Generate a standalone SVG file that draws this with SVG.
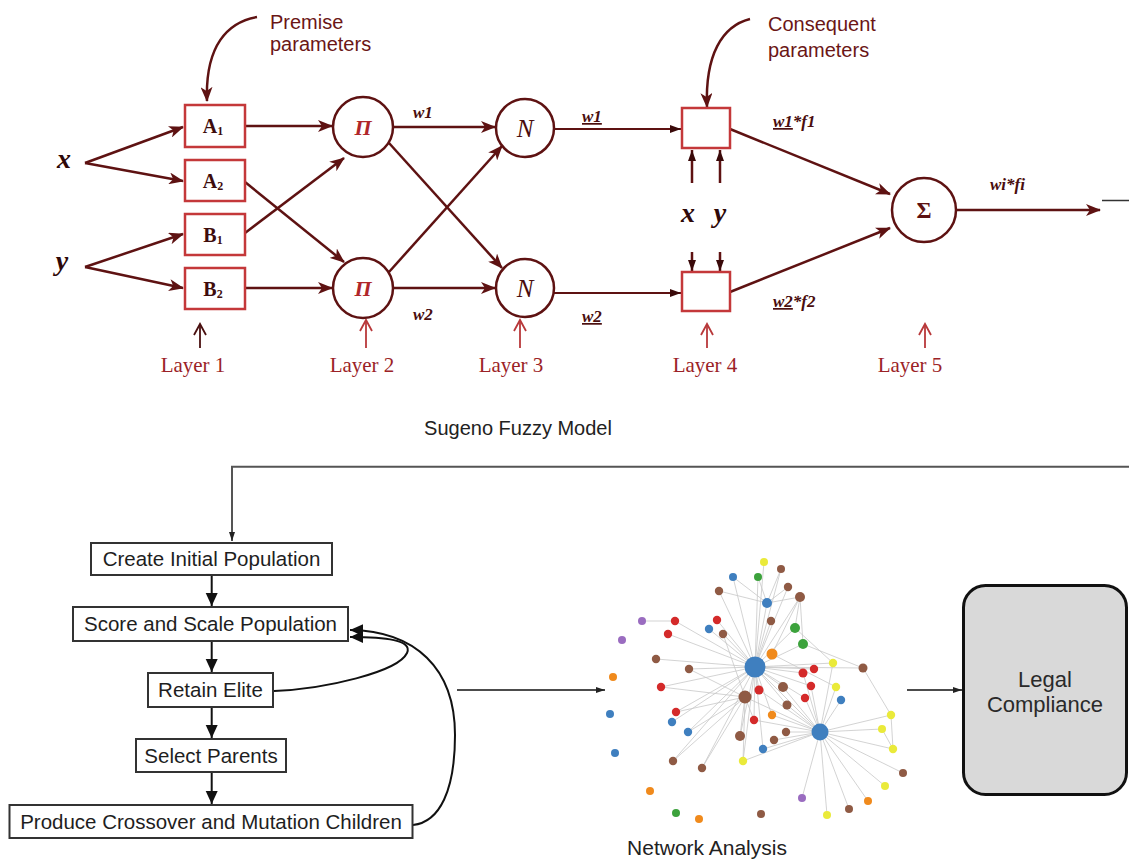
<svg xmlns="http://www.w3.org/2000/svg" width="1129" height="861" viewBox="0 0 1129 861">
<style>
.bg{fill:#ffffff}
.dk{stroke:#5e1212;stroke-width:2.5;fill:none}
.dk2{stroke:#5e1212;stroke-width:2;fill:none}
.lay{stroke:#b8383a;stroke-width:1.8;fill:none}
.lay1{stroke:#4a1010;stroke-width:1.8;fill:none}
.box{fill:#ffffff;stroke:#c4383a;stroke-width:2.5}
.circ{fill:#ffffff;stroke:#5e1212;stroke-width:2.5}
.bl{font-family:"Liberation Serif",serif;font-weight:bold;font-size:20px;fill:#3e0c0c;text-anchor:middle}
.sym{font-family:"Liberation Serif",serif;font-style:italic;font-size:25px;fill:#4a0e0e;text-anchor:middle}
.var{font-family:"Liberation Serif",serif;font-style:italic;font-weight:bold;font-size:28px;fill:#2e0808;text-anchor:middle}
.wl{font-family:"Liberation Serif",serif;font-style:italic;font-weight:bold;font-size:17px;fill:#4a0e0e}
.layer{font-family:"Liberation Serif",serif;font-size:21px;fill:#9b2226;text-anchor:middle}
.par{font-family:"Liberation Sans",Arial,sans-serif;font-size:20px;fill:#6b1616}
.cap{font-family:"Liberation Sans",Arial,sans-serif;font-size:20px;fill:#222;text-anchor:middle}
.fbox{fill:#ffffff;stroke:#333;stroke-width:2}
.ft{font-family:"Liberation Sans",Arial,sans-serif;font-size:20.5px;fill:#1e1e1e;text-anchor:middle}
.fl{stroke:#111;stroke-width:2;fill:none}
.gl{stroke:#555;stroke-width:2;fill:none}
.e{stroke:#c8c8c8;stroke-width:0.8}
.nb{fill:#3f7fbf}.no{fill:#f08a1c}.ng{fill:#3ca23c}.nr{fill:#d42a2a}.np{fill:#9a6cc0}.nn{fill:#8f5a44}.ny{fill:#eaea3a}
</style>
<defs>
<marker id="bar" markerUnits="userSpaceOnUse" markerWidth="16" markerHeight="12" refX="14" refY="6" orient="auto">
<path d="M0,0 L15,6 L0,12 L4,6 z" fill="#5e1212"/>
</marker>
<marker id="sm" markerUnits="userSpaceOnUse" markerWidth="12" markerHeight="10" refX="11" refY="5" orient="auto">
<path d="M0,1 L11,5 L0,9 z" fill="#3a0a0a"/>
</marker>
<marker id="openR" markerUnits="userSpaceOnUse" markerWidth="14" markerHeight="14" refX="12" refY="7" orient="auto">
<path d="M1,1 L12,7 L1,13" fill="none" stroke="#b8383a" stroke-width="1.8"/>
</marker>
<marker id="openD" markerUnits="userSpaceOnUse" markerWidth="14" markerHeight="14" refX="12" refY="7" orient="auto">
<path d="M1,1 L12,7 L1,13" fill="none" stroke="#4a1010" stroke-width="1.8"/>
</marker>
<marker id="tri" markerUnits="userSpaceOnUse" markerWidth="14" markerHeight="14" refX="13" refY="7" orient="auto">
<path d="M0,1 L13,7 L0,13 z" fill="#111"/>
</marker>
<marker id="tiny" markerUnits="userSpaceOnUse" markerWidth="10" markerHeight="8" refX="9" refY="4" orient="auto">
<path d="M0,1 L9,4 L0,7 z" fill="#222"/>
</marker>
</defs>
<rect class="bg" x="0" y="0" width="1129" height="861"/>

<!-- connectors -->
<g id="connectors">
<path class="dk" d="M85,163 L183,127" marker-end="url(#bar)"/>
<path class="dk" d="M85,163 L183,181" marker-end="url(#bar)"/>
<path class="dk" d="M85,267 L183,234" marker-end="url(#bar)"/>
<path class="dk" d="M85,267 L183,288" marker-end="url(#bar)"/>
<path class="dk" d="M245,126 L332,126" marker-end="url(#bar)"/>
<path class="dk" d="M245,233 L344,158" marker-end="url(#bar)"/>
<path class="dk" d="M245,182 L344,262" marker-end="url(#bar)"/>
<path class="dk" d="M245,288 L332,288" marker-end="url(#bar)"/>
<path class="dk" d="M393,127 L495,127" marker-end="url(#bar)"/>
<path class="dk" d="M389,143 L502,268" marker-end="url(#bar)"/>
<path class="dk" d="M389,272 L502,146" marker-end="url(#bar)"/>
<path class="dk" d="M393,288 L495,288" marker-end="url(#bar)"/>
<path class="dk2" d="M554,129 L681,129" marker-end="url(#sm)"/>
<path class="dk2" d="M554,293 L681,293" marker-end="url(#sm)"/>
<path class="dk" d="M692,183 L692,150" marker-end="url(#sm)"/>
<path class="dk" d="M720,183 L720,150" marker-end="url(#sm)"/>
<path class="dk" d="M692,252 L692,271" marker-end="url(#sm)"/>
<path class="dk" d="M720,252 L720,271" marker-end="url(#sm)"/>
<path class="dk" d="M730,129 L890,194" marker-end="url(#bar)"/>
<path class="dk" d="M730,292 L890,228" marker-end="url(#bar)"/>
<path class="dk" d="M957,210 L1100,210" marker-end="url(#bar)"/>
<line x1="1102" y1="200.5" x2="1129" y2="200.5" stroke="#333" stroke-width="1.5"/>
<path class="dk" d="M257,17 C228,22 205,45 207,101" marker-end="url(#bar)"/>
<path class="dk" d="M750,19 C722,26 705,55 707,107" marker-end="url(#bar)"/>
<path class="lay1" d="M200,348 L200,324" marker-end="url(#openD)"/>
<path class="lay" d="M366,348 L366,320" marker-end="url(#openR)"/>
<path class="lay" d="M520,348 L520,320" marker-end="url(#openR)"/>
<path class="lay" d="M707,348 L707,324" marker-end="url(#openR)"/>
<path class="lay" d="M925,348 L925,324" marker-end="url(#openR)"/>
<path class="gl" d="M1129,466.7 L232,466.7 L232,541" marker-end="url(#tiny)"/>
<path class="fl" d="M211.7,575 L211.7,606" marker-end="url(#tri)"/>
<path class="fl" d="M211.7,641 L211.7,672" marker-end="url(#tri)"/>
<path class="fl" d="M211.7,707 L211.7,738" marker-end="url(#tri)"/>
<path class="fl" d="M211.7,772 L211.7,804" marker-end="url(#tri)"/>
<path class="fl" d="M274,691 C325,689 398,672 407,653 C413,640 385,637 350,637" marker-end="url(#tri)"/>
<path class="fl" d="M413,825 C440,822 455,790 455,735 C455,668 415,631 350,630" marker-end="url(#tri)"/>
<path stroke="#111" stroke-width="1.5" fill="none" d="M457,690 L605,690" marker-end="url(#tiny)"/>
<path stroke="#111" stroke-width="1.5" fill="none" d="M907,690 L962,690" marker-end="url(#tiny)"/>
</g>

<g id="x-input"><text class="var" x="64" y="168">x</text></g>
<g id="y-input"><text class="var" x="62" y="270">y</text></g>
<g id="A1"><rect class="box" x="185" y="105" width="60" height="42"/><text class="bl" x="213" y="133">A<tspan font-size="12" dy="2">1</tspan></text></g>
<g id="A2"><rect class="box" x="185" y="160" width="60" height="41"/><text class="bl" x="213" y="188">A<tspan font-size="12" dy="2">2</tspan></text></g>
<g id="B1"><rect class="box" x="185" y="214" width="60" height="41"/><text class="bl" x="213" y="242">B<tspan font-size="12" dy="2">1</tspan></text></g>
<g id="B2"><rect class="box" x="185" y="268" width="60" height="41"/><text class="bl" x="213" y="296">B<tspan font-size="12" dy="2">2</tspan></text></g>
<g id="Pi1"><circle class="circ" cx="363" cy="127" r="30"/><text x="363" y="135" font-family="Liberation Serif,serif" font-style="italic" font-weight="bold" font-size="22" fill="#b0262a" text-anchor="middle">Π</text></g>
<g id="Pi2"><circle class="circ" cx="363" cy="288" r="30"/><text x="363" y="296" font-family="Liberation Serif,serif" font-style="italic" font-weight="bold" font-size="22" fill="#b0262a" text-anchor="middle">Π</text></g>
<g id="N1"><circle class="circ" cx="525" cy="128" r="29"/><text class="sym" x="525" y="137">N</text></g>
<g id="N2"><circle class="circ" cx="525" cy="288" r="29"/><text class="sym" x="525" y="297">N</text></g>
<g id="L4a"><rect class="box" x="682" y="108" width="48" height="40"/></g>
<g id="L4b"><rect class="box" x="682" y="272" width="48" height="39"/></g>
<g id="xy4"><text class="var" x="688" y="222" font-size="26">x</text><text class="var" x="720" y="222" font-size="26">y</text></g>
<g id="Sigma"><circle class="circ" cx="924" cy="210" r="32"/><text x="924" y="218" font-family="Liberation Serif,serif" font-weight="bold" font-size="23" fill="#5e1212" text-anchor="middle">Σ</text></g>

<g id="labels">
<text class="wl" x="413" y="118">w1</text>
<text class="wl" x="413" y="320">w2</text>
<text class="wl" x="582" y="122" text-decoration="underline">w1</text>
<text class="wl" x="582" y="322" text-decoration="underline">w2</text>
<text class="wl" x="773" y="127"><tspan text-decoration="underline">w1</tspan>*f1</text>
<text class="wl" x="773" y="307"><tspan text-decoration="underline">w2</tspan>*f2</text>
<text class="wl" x="990" y="190" font-size="20">wi*fi</text>
<text class="par" x="270" y="29">Premise</text>
<text class="par" x="270" y="51">parameters</text>
<text class="par" x="768" y="31">Consequent</text>
<text class="par" x="768" y="57">parameters</text>
<text class="layer" x="193" y="372">Layer 1</text>
<text class="layer" x="362" y="372">Layer 2</text>
<text class="layer" x="511" y="372">Layer 3</text>
<text class="layer" x="705" y="372">Layer 4</text>
<text class="layer" x="910" y="372">Layer 5</text>
<text class="cap" x="518" y="435">Sugeno Fuzzy Model</text>
</g>

<g id="create"><rect class="fbox" x="91" y="543" width="241" height="32"/><text class="ft" x="211.5" y="566">Create Initial Population</text></g>
<g id="score"><rect class="fbox" x="73" y="607" width="275" height="34"/><text class="ft" x="210.5" y="631">Score and Scale Population</text></g>
<g id="retain"><rect class="fbox" x="148" y="673" width="125" height="34"/><text class="ft" x="210.5" y="697">Retain Elite</text></g>
<g id="select"><rect class="fbox" x="136" y="739" width="150" height="33"/><text class="ft" x="211" y="763">Select Parents</text></g>
<g id="produce"><rect class="fbox" x="9.5" y="805" width="403" height="33"/><text class="ft" x="211" y="829">Produce Crossover and Mutation Children</text></g>

<g id="network">
<g id="net-edges">
<line class="e" x1="755" y1="667" x2="764" y2="562"/><line class="e" x1="755" y1="667" x2="781" y2="569"/><line class="e" x1="755" y1="667" x2="733" y2="577"/><line class="e" x1="755" y1="667" x2="758" y2="577"/><line class="e" x1="755" y1="667" x2="788" y2="587"/><line class="e" x1="755" y1="667" x2="719" y2="591"/><line class="e" x1="755" y1="667" x2="800" y2="597"/><line class="e" x1="755" y1="667" x2="767" y2="603"/><line class="e" x1="755" y1="667" x2="675" y2="621"/><line class="e" x1="755" y1="667" x2="717" y2="620"/><line class="e" x1="755" y1="667" x2="771" y2="621"/><line class="e" x1="755" y1="667" x2="709" y2="629"/><line class="e" x1="755" y1="667" x2="668" y2="634"/><line class="e" x1="755" y1="667" x2="723" y2="634"/><line class="e" x1="755" y1="667" x2="795" y2="628"/><line class="e" x1="755" y1="667" x2="803" y2="644"/><line class="e" x1="755" y1="667" x2="656" y2="659"/><line class="e" x1="755" y1="667" x2="689" y2="669"/><line class="e" x1="755" y1="667" x2="833" y2="663"/><line class="e" x1="755" y1="667" x2="803" y2="673"/><line class="e" x1="755" y1="667" x2="814" y2="669"/><line class="e" x1="755" y1="667" x2="661" y2="687"/><line class="e" x1="755" y1="667" x2="759" y2="690"/><line class="e" x1="755" y1="667" x2="783" y2="687"/><line class="e" x1="755" y1="667" x2="811" y2="686"/><line class="e" x1="755" y1="667" x2="805" y2="698"/><line class="e" x1="755" y1="667" x2="676" y2="712"/><line class="e" x1="755" y1="667" x2="672" y2="722"/><line class="e" x1="755" y1="667" x2="688" y2="732"/><line class="e" x1="755" y1="667" x2="754" y2="720"/><line class="e" x1="755" y1="667" x2="740" y2="736"/><line class="e" x1="755" y1="667" x2="673" y2="761"/><line class="e" x1="755" y1="667" x2="702" y2="768"/><line class="e" x1="755" y1="667" x2="743" y2="761"/><line class="e" x1="755" y1="667" x2="763" y2="749"/><line class="e" x1="755" y1="667" x2="772" y2="715"/><line class="e" x1="755" y1="667" x2="820" y2="732"/><line class="e" x1="755" y1="667" x2="787" y2="705"/><line class="e" x1="755" y1="667" x2="863" y2="668"/>
<line class="e" x1="820" y1="732" x2="891" y2="715"/><line class="e" x1="820" y1="732" x2="882" y2="729"/><line class="e" x1="820" y1="732" x2="893" y2="749"/><line class="e" x1="820" y1="732" x2="903" y2="773"/><line class="e" x1="820" y1="732" x2="885" y2="786"/><line class="e" x1="820" y1="732" x2="868" y2="801"/><line class="e" x1="820" y1="732" x2="849" y2="809"/><line class="e" x1="820" y1="732" x2="827" y2="815"/><line class="e" x1="820" y1="732" x2="802" y2="798"/><line class="e" x1="820" y1="732" x2="841" y2="700"/><line class="e" x1="820" y1="732" x2="836" y2="687"/><line class="e" x1="820" y1="732" x2="787" y2="705"/><line class="e" x1="820" y1="732" x2="786" y2="732"/><line class="e" x1="820" y1="732" x2="774" y2="740"/><line class="e" x1="820" y1="732" x2="763" y2="749"/><line class="e" x1="820" y1="732" x2="772" y2="715"/><line class="e" x1="820" y1="732" x2="805" y2="698"/><line class="e" x1="820" y1="732" x2="811" y2="686"/><line class="e" x1="820" y1="732" x2="783" y2="687"/><line class="e" x1="820" y1="732" x2="743" y2="761"/><line class="e" x1="820" y1="732" x2="745" y2="697"/><line class="e" x1="820" y1="732" x2="833" y2="663"/><line class="e" x1="820" y1="732" x2="759" y2="690"/><line class="e" x1="820" y1="732" x2="754" y2="720"/><line class="e" x1="820" y1="732" x2="803" y2="673"/>
<line class="e" x1="745" y1="697" x2="661" y2="687"/><line class="e" x1="745" y1="697" x2="676" y2="712"/><line class="e" x1="745" y1="697" x2="688" y2="732"/><line class="e" x1="745" y1="697" x2="673" y2="761"/><line class="e" x1="745" y1="697" x2="702" y2="768"/><line class="e" x1="745" y1="697" x2="740" y2="736"/><line class="e" x1="745" y1="697" x2="743" y2="761"/><line class="e" x1="745" y1="697" x2="754" y2="720"/><line class="e" x1="745" y1="697" x2="689" y2="669"/><line class="e" x1="745" y1="697" x2="723" y2="634"/>
<line class="e" x1="642" y1="621" x2="675" y2="621"/><line class="e" x1="767" y1="603" x2="800" y2="597"/><line class="e" x1="767" y1="603" x2="788" y2="587"/><line class="e" x1="767" y1="603" x2="781" y2="569"/><line class="e" x1="767" y1="603" x2="733" y2="577"/><line class="e" x1="767" y1="603" x2="758" y2="577"/><line class="e" x1="767" y1="603" x2="719" y2="591"/><line class="e" x1="800" y1="597" x2="803" y2="644"/><line class="e" x1="800" y1="597" x2="795" y2="628"/><line class="e" x1="795" y1="628" x2="833" y2="663"/><line class="e" x1="863" y1="668" x2="891" y2="715"/><line class="e" x1="891" y1="715" x2="893" y2="749"/><line class="e" x1="882" y1="729" x2="893" y2="749"/><line class="e" x1="803" y1="644" x2="863" y2="668"/><line class="e" x1="772" y1="654" x2="836" y2="687"/><line class="e" x1="772" y1="654" x2="800" y2="597"/>
</g>
<g id="net-nodes">
<circle class="nb" cx="755" cy="667" r="10.5"/><circle class="nb" cx="820" cy="732" r="8.5"/><circle class="nn" cx="745" cy="697" r="6.5"/><circle class="no" cx="772" cy="654" r="5.5"/>
<circle class="ny" cx="764" cy="562" r="4"/><circle class="nn" cx="781" cy="569" r="4"/><circle class="nb" cx="733" cy="577" r="4"/><circle class="ng" cx="758" cy="577" r="4"/><circle class="nn" cx="788" cy="587" r="4.2"/><circle class="nn" cx="719" cy="591" r="4.2"/><circle class="nn" cx="800" cy="597" r="5"/><circle class="nb" cx="767" cy="603" r="5"/>
<circle class="np" cx="642" cy="621" r="4"/><circle class="nr" cx="675" cy="621" r="4.2"/><circle class="nr" cx="717" cy="620" r="4.2"/><circle class="nn" cx="771" cy="621" r="4.2"/><circle class="nb" cx="709" cy="629" r="4.2"/><circle class="nr" cx="668" cy="634" r="4.2"/><circle class="nn" cx="723" cy="634" r="4.2"/><circle class="ng" cx="795" cy="628" r="5"/><circle class="np" cx="622" cy="640" r="4"/><circle class="ng" cx="803" cy="644" r="5"/>
<circle class="nn" cx="656" cy="659" r="4.2"/><circle class="nn" cx="689" cy="669" r="4.2"/><circle class="ny" cx="833" cy="663" r="4.2"/><circle class="nn" cx="863" cy="668" r="4.5"/><circle class="nr" cx="803" cy="673" r="4.5"/><circle class="nr" cx="814" cy="669" r="4.2"/><circle class="no" cx="613" cy="677" r="4"/><circle class="nr" cx="661" cy="687" r="4.2"/><circle class="nr" cx="759" cy="690" r="4.5"/><circle class="nn" cx="783" cy="687" r="5"/><circle class="nr" cx="811" cy="686" r="4.2"/><circle class="ny" cx="836" cy="687" r="4.2"/>
<circle class="nr" cx="805" cy="698" r="4.2"/><circle class="nn" cx="787" cy="705" r="4.5"/><circle class="nb" cx="841" cy="700" r="4.2"/><circle class="nr" cx="676" cy="712" r="4.2"/><circle class="nb" cx="610" cy="714" r="4"/><circle class="no" cx="772" cy="715" r="4.2"/><circle class="nb" cx="672" cy="722" r="4.2"/><circle class="nr" cx="754" cy="720" r="4.2"/><circle class="ny" cx="891" cy="715" r="4.2"/><circle class="nb" cx="688" cy="732" r="4.2"/><circle class="ny" cx="882" cy="729" r="4"/><circle class="nn" cx="740" cy="736" r="5"/><circle class="nn" cx="786" cy="732" r="4.2"/><circle class="nn" cx="774" cy="740" r="4.2"/>
<circle class="ny" cx="893" cy="749" r="4.2"/><circle class="nb" cx="763" cy="749" r="4.2"/><circle class="nb" cx="615" cy="753" r="4"/><circle class="nn" cx="673" cy="761" r="4.2"/><circle class="nn" cx="702" cy="768" r="4.2"/><circle class="ny" cx="743" cy="761" r="4.2"/><circle class="nn" cx="903" cy="773" r="4"/><circle class="ny" cx="885" cy="786" r="4"/><circle class="no" cx="650" cy="791" r="4"/><circle class="np" cx="802" cy="798" r="4"/><circle class="no" cx="868" cy="801" r="4"/><circle class="nn" cx="849" cy="809" r="4"/><circle class="ng" cx="676" cy="813" r="4"/><circle class="nn" cx="761" cy="814" r="4"/><circle class="ny" cx="827" cy="815" r="4"/><circle class="no" cx="699" cy="819" r="4"/>
</g>
<text x="707" y="855" font-family="Liberation Sans,Arial,sans-serif" font-size="21" fill="#222" text-anchor="middle">Network Analysis</text>
</g>

<g id="legal"><rect x="963.5" y="585.5" width="163" height="209" rx="22" fill="#d9d9d9" stroke="#111" stroke-width="3"/><text x="1045" y="687" font-family="Liberation Sans,Arial,sans-serif" font-size="22" fill="#2a2a2a" text-anchor="middle">Legal</text><text x="1045" y="712" font-family="Liberation Sans,Arial,sans-serif" font-size="22" fill="#2a2a2a" text-anchor="middle">Compliance</text></g>
</svg>
